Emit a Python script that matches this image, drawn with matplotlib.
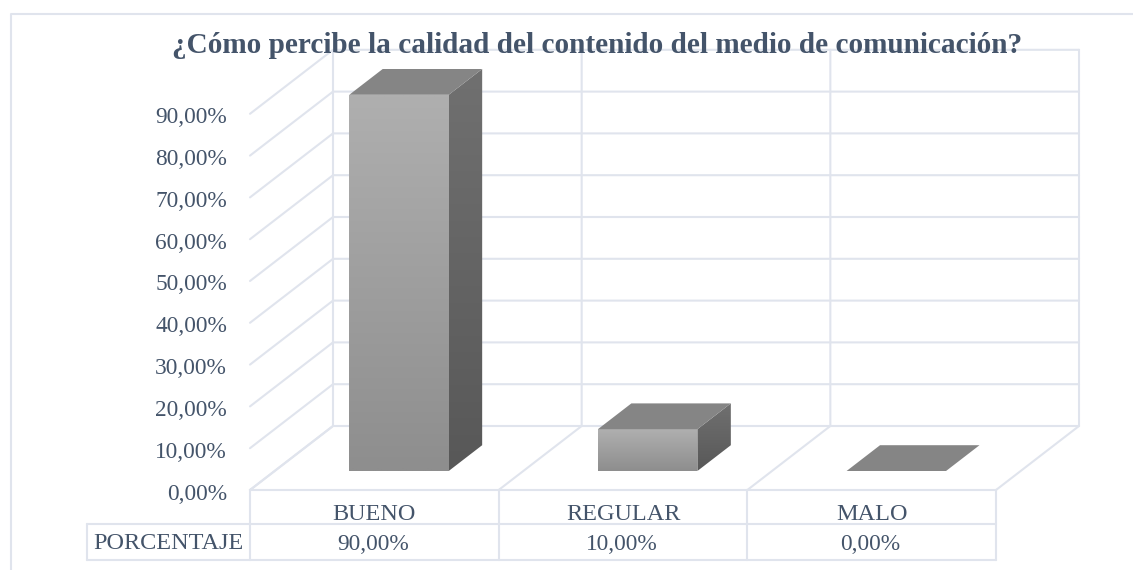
import matplotlib
matplotlib.use('Agg')
import matplotlib.pyplot as plt
import numpy as np
from matplotlib.patches import Polygon

categories = ['BUENO', 'REGULAR', 'MALO']
values = [90.0, 10.0, 0.0]
row_label = 'PORCENTAJE'
value_labels = ['90,00%', '10,00%', '0,00%']
y_ticks = [0, 10, 20, 30, 40, 50, 60, 70, 80, 90]
y_tick_labels = ['0,00%', '10,00%', '20,00%', '30,00%', '40,00%',
                 '50,00%', '60,00%', '70,00%', '80,00%', '90,00%']
title = '¿Cómo percibe la calidad del contenido del medio de comunicación?'

W, H = 1133, 570
TEXT = '#44546a'
GRID = '#e0e4ed'

# pixels per category and per percent point
PX_X = 248.67
PX_Y = 4.18
# oblique offset of the back wall, in data units
DEPTH_X = 83 / PX_X
DEPTH_Y = 64 / PX_Y


def proj(x, y, d=0.0):
    """category x, value y, depth d (0 front, 1 back)"""
    return x + d * DEPTH_X, y + d * DEPTH_Y


def gradient(ax, poly, top, bottom, angle=0.0):
    pts = np.array(poly)
    x0, x1 = pts[:, 0].min(), pts[:, 0].max()
    y0, y1 = pts[:, 1].min(), pts[:, 1].max()
    yy, xx = np.mgrid[1:0:64j, 0:1:16j]
    t = 1 - yy + angle * xx
    t = (t - t.min()) / (t.max() - t.min())
    rgb = np.array(matplotlib.colors.to_rgb(top)) * (1 - t[..., None]) \
        + np.array(matplotlib.colors.to_rgb(bottom)) * t[..., None]
    im = ax.imshow(rgb, extent=(x0, x1, y0, y1), aspect='auto', zorder=3,
                   interpolation='bilinear')
    im.set_clip_path(Polygon(poly, transform=ax.transData))


plt.rcParams['font.family'] = ['Liberation Serif', 'DejaVu Serif']
fig = plt.figure(figsize=(W / 100, H / 100), dpi=100)
ax = fig.add_axes([0, 0, 1, 1])
ax.axis('off')

n = len(categories)
line = dict(color=GRID, lw=1.5, solid_capstyle='round', zorder=1)

# wall, side and floor lines
for v in y_ticks:
    xa, ya = proj(0, v, 0)
    xb, yb = proj(0, v, 1)
    xc, yc = proj(n, v, 1)
    ax.plot([xa, xb, xc], [ya, yb, yc], **line)
for i in range(n + 1):
    xa, ya = proj(i, 0, 0)
    xb, yb = proj(i, 0, 1)
    xc, yc = proj(i, y_ticks[-1], 1)
    ax.plot([xa, xb, xc], [ya, yb, yc], **line)

# data table under the floor
row1 = -34 / PX_Y
row2 = -70 / PX_Y
head = -163 / PX_X
ax.plot([0, n], [0, 0], **line)
ax.plot([head, n], [row1, row1], **line)
ax.plot([head, n], [row2, row2], **line)
ax.plot([head, head], [row1, row2], **line)
for i in range(n + 1):
    ax.plot([i, i], [0, row2], **line)

ax.text(head / 2, -59 / PX_Y, row_label, ha='center', va='baseline',
        fontsize=17.5, color=TEXT)
for i in range(n):
    ax.text(i + 0.5, -30 / PX_Y, categories[i], ha='center', va='baseline',
            fontsize=17.5, color=TEXT)
    ax.text(i + 0.5 - 1.5 / PX_X, -60 / PX_Y, value_labels[i], ha='center', va='baseline',
            fontsize=16.8, color=TEXT)

# tick labels
for v, lab in zip(y_ticks, y_tick_labels):
    ax.text(-23 / PX_X, v - 9.5 / PX_Y, lab, ha='right', va='baseline',
            fontsize=16.8, color=TEXT)

# 3d bars
bar_w = 0.4
d0, d1 = 0.297, 0.70
for i, v in enumerate(values):
    xl = i + 0.5 - bar_w / 2
    xr = i + 0.5 + bar_w / 2
    top_face = [proj(xl, v, d0), proj(xr, v, d0), proj(xr, v, d1), proj(xl, v, d1)]
    if v > 0:
        front = [proj(xl, 0, d0), proj(xr, 0, d0), proj(xr, v, d0), proj(xl, v, d0)]
        side = [proj(xr, 0, d0), proj(xr, 0, d1), proj(xr, v, d1), proj(xr, v, d0)]
        gradient(ax, front, '#afafaf', '#8e8e8e')
        gradient(ax, side, '#707070', '#585858')
    ax.add_patch(Polygon(top_face, closed=True, fc='#858585', ec='none', zorder=4))

ax.set_xlim(-250 / PX_X, (W - 250) / PX_X)
ax.set_ylim(-(H - 490) / PX_Y, 490 / PX_Y)

# outer chart border, runs off the top right of the image
border_x = ax.get_xlim()[0] + 11 / PX_X
border_y = (490 - 14) / PX_Y
ax.plot([border_x, border_x, ax.get_xlim()[1]],
        [ax.get_ylim()[0], border_y, border_y], color=GRID, lw=1.5, zorder=1)

fig.text(597.5 / W, 1 - 53 / H, title, ha='center', va='baseline', fontsize=21.1,
         fontweight='bold', color=TEXT, zorder=6)

fig.savefig('out.png', dpi=100)
